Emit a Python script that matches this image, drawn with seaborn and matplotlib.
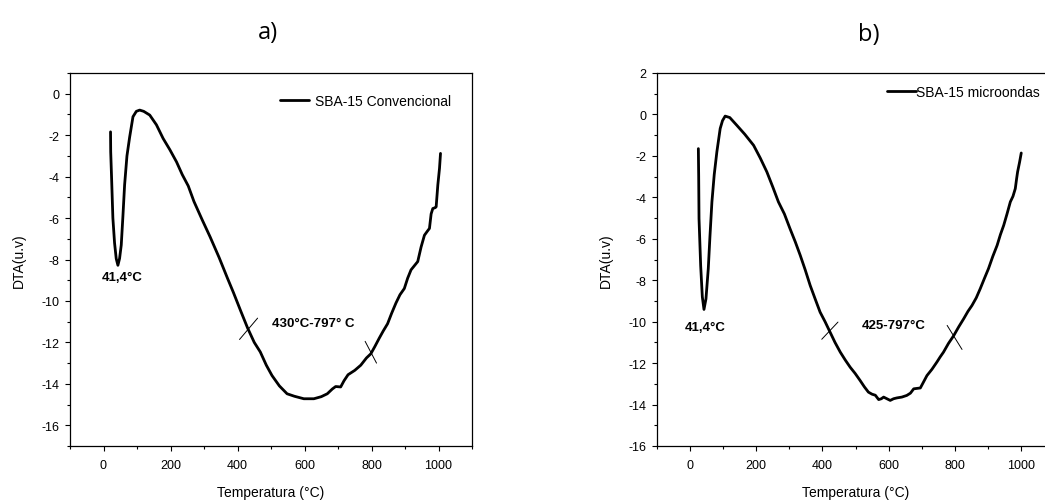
import matplotlib
matplotlib.use("Agg")
import matplotlib.pyplot as plt
import seaborn as sns
from matplotlib.ticker import MultipleLocator

# SBA-15 convencional (panel a)
temp_conv = [21, 21.5, 24, 28, 33, 38, 43, 48, 53, 58, 63, 70, 78, 88, 98, 108,
             120, 138, 158, 178, 198, 218, 235, 253, 270, 295, 318, 345, 370,
             388, 410, 430, 450, 468, 486, 503, 525, 548, 570, 598, 628, 650,
             668, 683, 693, 708, 718, 730, 750, 768, 785, 798, 810, 823, 835,
             848, 860, 873, 885, 898, 908, 918, 928, 938, 948, 958, 966, 973,
             978, 983, 990, 993, 998, 1003, 1006]
dta_conv = [-1.84, -2.8, -4.0, -6.0, -7.2, -7.96, -8.28, -7.95, -7.3, -5.9, -4.4,
            -3.0, -2.1, -1.11, -0.85, -0.79, -0.85, -1.03, -1.5, -2.16, -2.7,
            -3.29, -3.9, -4.45, -5.2, -6.1, -6.9, -7.9, -8.9, -9.6, -10.5,
            -11.3, -12.0, -12.46, -13.1, -13.6, -14.1, -14.48, -14.6, -14.72,
            -14.72, -14.62, -14.48, -14.25, -14.13, -14.15, -13.85, -13.56,
            -13.35, -13.1, -12.75, -12.55, -12.2, -11.8, -11.45, -11.1, -10.6,
            -10.1, -9.7, -9.4, -8.9, -8.5, -8.3, -8.1, -7.4, -6.83, -6.65,
            -6.5, -5.8, -5.54, -5.5, -5.46, -4.4, -3.6, -2.88]

# SBA-15 microondas (panel b)
temp_micro = [25, 26, 27, 32, 37, 42, 48, 55, 60, 66, 73, 81, 91, 98, 106, 120,
              141, 165, 192, 212, 232, 250, 267, 285, 302, 318, 333, 348, 363,
              378, 393, 408, 423, 438, 454, 469, 484, 499, 514, 527, 539, 550,
              560, 570, 578, 585, 595, 605, 615, 625, 640, 655, 666, 676, 686,
              696, 706, 716, 731, 746, 756, 766, 781, 797, 812, 827, 840, 852,
              865, 877, 890, 902, 915, 928, 938, 948, 958, 968, 976, 983, 987,
              990, 996, 1001]
dta_micro = [-1.65, -3.0, -5.03, -7.3, -8.8, -9.41, -8.9, -7.44, -5.9, -4.22,
             -2.9, -1.8, -0.68, -0.3, -0.08, -0.15, -0.52, -0.95, -1.49, -2.1,
             -2.77, -3.5, -4.22, -4.8, -5.51, -6.15, -6.8, -7.5, -8.25, -8.9,
             -9.54, -10.0, -10.5, -11.0, -11.47, -11.85, -12.2, -12.5, -12.84,
             -13.15, -13.4, -13.5, -13.55, -13.76, -13.72, -13.64, -13.72,
             -13.8, -13.72, -13.68, -13.64, -13.56, -13.45, -13.24, -13.22,
             -13.2, -12.9, -12.6, -12.3, -11.95, -11.7, -11.47, -11.05, -10.67,
             -10.25, -9.86, -9.5, -9.22, -8.85, -8.41, -7.9, -7.44, -6.85,
             -6.32, -5.8, -5.35, -4.8, -4.22, -3.95, -3.58, -3.1, -2.77, -2.3,
             -1.86]

# short marks across the curve at the onset / end temperatures
marks_conv = [((406, 460), (-11.86, -10.83)), ((781, 815), (-11.95, -13.0))]
marks_micro = [((398, 447), (-10.85, -10.02)), ((777, 822), (-10.18, -11.34))]

sns.set_style("ticks")
plt.rcParams["font.family"] = ["Liberation Sans", "DejaVu Sans"]
plt.rcParams["axes.unicode_minus"] = False
plt.rcParams["text.color"] = "black"
plt.rcParams["axes.labelcolor"] = "black"
plt.rcParams["xtick.color"] = "black"
plt.rcParams["ytick.color"] = "black"
plt.rcParams["axes.linewidth"] = 0.9
plt.rcParams["xtick.major.size"] = 3.5
plt.rcParams["ytick.major.size"] = 3.5
plt.rcParams["xtick.minor.size"] = 2
plt.rcParams["ytick.minor.size"] = 2
plt.rcParams["xtick.major.width"] = 0.8
plt.rcParams["ytick.major.width"] = 0.8
plt.rcParams["xtick.minor.width"] = 0.8
plt.rcParams["ytick.minor.width"] = 0.8

fig = plt.figure(figsize=(10.45, 5.02), dpi=100)
ax1 = fig.add_axes([70 / 1045, 55 / 502, 402 / 1045, 373 / 502])
ax2 = fig.add_axes([657 / 1045, 55 / 502, 397 / 1045, 373 / 502])


def draw_panel(ax, x, y, label, marks, ylim, yticks, annots, leg_anchor,
               leg_pad):
    sns.lineplot(x=x, y=y, ax=ax, color="black", linewidth=2.0,
                 sort=False, estimator=None, label=label)
    for mx, my in marks:
        ax.plot(mx, my, color="black", linewidth=0.7)
    for txt, tx, ty in annots:
        ax.text(tx, ty, txt, ha="center", va="center", fontsize=9.5,
                fontweight="bold",
                family=["Liberation Sans Narrow", "Liberation Sans"])
    ax.set_xlim(-100, 1100)
    ax.set_ylim(*ylim)
    ax.set_xticks([0, 200, 400, 600, 800, 1000])
    ax.set_yticks(yticks)
    ax.xaxis.set_minor_locator(MultipleLocator(100))
    ax.yaxis.set_minor_locator(MultipleLocator(1))
    ax.tick_params(which="both", direction="out", labelsize=9)
    ax.tick_params(axis="x", pad=6)
    ax.tick_params(axis="y", pad=4)
    ax.set_xlabel("Temperatura (°C)", fontsize=10, labelpad=10)
    ax.set_ylabel("DTA(u.v)", fontsize=10, labelpad=11)
    for s in ax.spines.values():
        s.set_visible(True)
        s.set_color("black")
    leg = ax.legend(loc="center right", bbox_to_anchor=leg_anchor,
                    frameon=False, fontsize=10, handlelength=2.1,
                    handletextpad=leg_pad, borderaxespad=0, borderpad=0)
    for t in leg.get_texts():
        t.set_color("black")


draw_panel(ax1, temp_conv, dta_conv, "SBA-15 Convencional", marks_conv,
           (-17, 1), list(range(-16, 1, 2)),
           [("41,4°C", 55, -8.84), ("430°C-797° C", 625, -11.05)],
           (0.948, 0.925), 0.4)
draw_panel(ax2, temp_micro, dta_micro, "SBA-15 microondas", marks_micro,
           (-16, 2), list(range(-16, 3, 2)),
           [("41,4°C", 45, -10.25), ("425-797°C", 615, -10.18)],
           (0.965, 0.949), 0.0)

fig.text(268 / 1045, 1 - 33 / 502, "a)", ha="center", va="center",
         fontsize=17, family=["Open Sans", "DejaVu Sans"])
fig.text(869 / 1045, 1 - 35 / 502, "b)", ha="center", va="center",
         fontsize=17, family=["Open Sans", "DejaVu Sans"])

fig.savefig("out.png", dpi=100)
